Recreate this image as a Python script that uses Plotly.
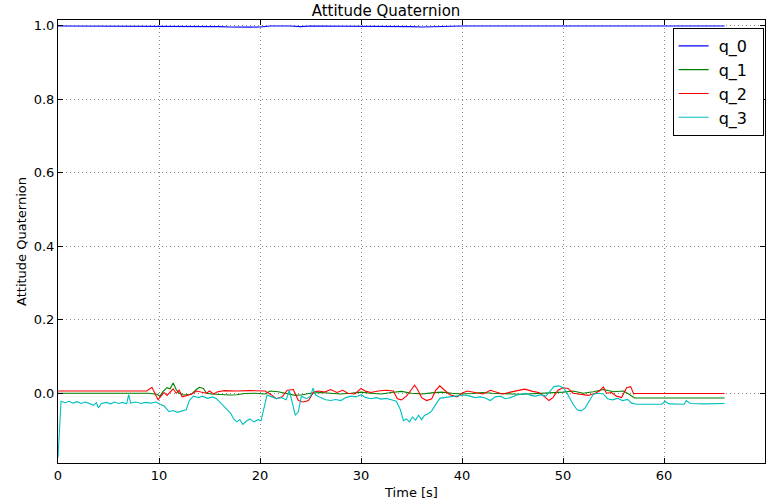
import plotly.graph_objects as go

# ---- data (time [s], value) ----
q0_points = [(0, 0.9995), (5, 0.9995), (10, 0.9995), (10.6, 0.9985), (11.5, 0.998), (12.9, 0.9985),
             (14, 0.9995), (15, 0.9985), (16, 0.998), (17, 0.997), (18, 0.996), (19, 0.9965),
             (20, 0.997), (21, 0.9995), (23, 0.9995), (24, 0.998), (25, 0.9995), (30, 0.9995),
             (34, 0.9995), (35, 0.998), (36, 0.997), (37, 0.998), (40, 0.9995), (45, 0.9995),
             (51.7, 0.9995), (52.5, 0.998), (53.5, 0.9995), (60, 0.9995), (66, 0.9995)]

q1_points = [(0, 0.0), (9.0, 0.0), (9.8, -0.003), (10.1, -0.008), (10.4, 0.005), (10.8, 0.015),
             (11.1, 0.012), (11.4, 0.028), (11.7, 0.01), (12.0, 0.0), (12.4, -0.005), (12.7, -0.004),
             (13.2, -0.003), (13.7, 0.01), (14.0, 0.016), (14.4, 0.013), (14.7, 0.0), (15.2, -0.002),
             (16.0, -0.004), (17.0, -0.005), (17.7, -0.004), (18.5, -0.001), (19.5, 0.0), (20.5, -0.002),
             (21.0, 0.006), (21.8, 0.004), (22.5, 0.0), (23.5, -0.006), (24.2, -0.004), (25.0, 0.0),
             (26, 0.002), (27, 0.0), (28, -0.002), (29, 0.0), (30, 0.003), (31, 0.0), (32, -0.002),
             (33, 0.002), (34, 0.005), (35, 0.0), (36, -0.002), (37, 0.001), (38, 0.003), (39, 0.0),
             (40, -0.002), (41, -0.001), (42, 0.002), (43, 0.0), (44, -0.002), (45, -0.002),
             (46, -0.003), (47, -0.002), (48, 0.0), (49, 0.002), (50, 0.003), (51, 0.006), (52, 0.0),
             (53, 0.004), (54, 0.01), (55, 0.004), (56, 0.006), (56.5, -0.002), (57.1, -0.013),
             (66, -0.013)]

q2_points = [(0, 0.006), (8.8, 0.006), (9.3, 0.016), (9.6, -0.002), (9.9, -0.018), (10.2, -0.008),
             (10.5, 0.002), (10.8, -0.006), (11.1, 0.004), (11.4, 0.012), (11.7, 0.0), (12.0, 0.008),
             (12.3, -0.01), (12.7, -0.006), (13.2, -0.003), (13.7, 0.006), (14.2, 0.004), (14.7, 0.0),
             (15.0, 0.006), (15.4, -0.002), (15.8, 0.004), (16.5, 0.007), (17.7, 0.006), (19, 0.007),
             (20.5, 0.006), (21.1, -0.004), (21.6, -0.015), (22.2, -0.01), (22.7, 0.008), (23.3, 0.01),
             (23.8, -0.02), (24.3, -0.024), (24.8, -0.02), (25.3, 0.003), (25.8, 0.006), (26.4, 0.003),
             (27, 0.01), (27.6, 0.002), (28.2, 0.008), (28.7, 0.0), (29.4, -0.002), (30.0, 0.013),
             (30.5, 0.005), (31, 0.002), (31.7, 0.006), (32.5, 0.008), (33.2, 0.006), (33.6, -0.015),
             (34.0, -0.018), (34.5, -0.008), (35.0, 0.01), (35.3, 0.022), (35.6, 0.01), (36.0, -0.012),
             (36.5, -0.02), (37.0, -0.015), (37.4, 0.008), (37.8, 0.02), (38.2, 0.01), (38.8, -0.004),
             (39.5, -0.01), (40.0, 0.0), (40.5, 0.006), (41.2, 0.002), (42.1, -0.002), (42.8, 0.008),
             (43.4, 0.004), (44.0, -0.002), (44.8, 0.003), (45.5, 0.008), (46.2, 0.011), (47.0, 0.005),
             (47.6, 0.002), (48.2, -0.01), (48.6, -0.02), (49.0, -0.012), (49.5, 0.008), (50.0, 0.015),
             (50.5, 0.013), (51.0, 0.0), (51.8, -0.004), (52.5, -0.006), (53.2, 0.0), (53.6, 0.006),
             (54.0, 0.017), (54.3, 0.0), (54.8, 0.002), (55.3, -0.008), (55.8, -0.012), (56.3, 0.015),
             (56.7, 0.018), (57.0, -0.002), (57.2, -0.001), (66, -0.001)]

q3_points = [(0, -0.175), (0.3, -0.022), (0.7, -0.026), (1.1, -0.022), (1.5, -0.027), (1.9, -0.023),
             (2.3, -0.028), (2.7, -0.024), (3.2, -0.029), (3.5, -0.033), (3.8, -0.026), (4.0, -0.04),
             (4.3, -0.028), (4.8, -0.025), (5.2, -0.029), (5.6, -0.024), (6.0, -0.028), (6.4, -0.025),
             (6.8, -0.029), (7.0, -0.004), (7.2, -0.027), (7.7, -0.024), (8.2, -0.028), (8.7, -0.025),
             (9.2, -0.027), (9.7, -0.024), (10.1, -0.03), (10.5, -0.035), (11.0, -0.05), (11.4, -0.047),
             (11.8, -0.052), (12.3, -0.048), (12.7, -0.045), (13.0, -0.02), (13.4, -0.008), (13.9, -0.012),
             (14.3, -0.008), (14.8, -0.014), (15.3, -0.01), (15.7, -0.015), (16.2, -0.03), (16.7, -0.045),
             (17.1, -0.055), (17.4, -0.07), (17.7, -0.078), (18.0, -0.072), (18.3, -0.085), (18.7, -0.075),
             (19.0, -0.07), (19.4, -0.078), (19.8, -0.072), (20.1, -0.075), (20.4, -0.04), (20.7, -0.005),
             (21.2, -0.01), (21.6, -0.015), (22.1, -0.012), (22.6, -0.018), (22.9, 0.008), (23.2, -0.03),
             (23.5, -0.06), (23.8, -0.05), (24.1, -0.008), (24.6, -0.015), (25.0, -0.008), (25.25, 0.014),
             (25.5, -0.005), (26.0, -0.012), (26.5, -0.018), (27.0, -0.02), (27.5, -0.017), (28.0, -0.02),
             (28.5, -0.012), (29.0, -0.008), (29.5, -0.01), (30.0, -0.004), (30.5, -0.012), (31.0, -0.015),
             (31.5, -0.012), (32.0, -0.016), (32.5, -0.014), (33.0, -0.018), (33.5, -0.022), (33.9, -0.045),
             (34.2, -0.075), (34.5, -0.07), (34.8, -0.078), (35.1, -0.065), (35.4, -0.073), (35.7, -0.06),
             (36.0, -0.072), (36.3, -0.06), (36.7, -0.055), (37.0, -0.048), (37.4, -0.03), (37.8, -0.014),
             (38.2, -0.012), (38.7, -0.01), (39.2, -0.01), (39.7, -0.006), (40.2, -0.005), (40.8, -0.008),
             (41.3, -0.012), (41.8, -0.01), (42.3, -0.013), (42.8, -0.02), (43.3, -0.01), (43.8, -0.008),
             (44.3, -0.015), (44.8, -0.012), (45.3, -0.006), (45.8, -0.003), (46.3, 0.0), (46.8, -0.006),
             (47.3, -0.008), (47.8, -0.004), (48.3, -0.008), (48.7, 0.005), (49.1, 0.018), (49.6, 0.02),
             (50.0, 0.015), (50.3, 0.005), (50.6, -0.01), (51.0, -0.03), (51.4, -0.045), (51.8, -0.048),
             (52.2, -0.04), (52.6, -0.02), (53.0, -0.003), (53.5, 0.0), (54.0, -0.002), (54.4, -0.015),
             (54.9, -0.018), (55.4, -0.014), (55.9, -0.02), (56.4, -0.017), (56.8, -0.027), (57.3, -0.03),
             (58.5, -0.031), (59.8, -0.03), (60.1, -0.022), (60.5, -0.029), (62.0, -0.03), (62.2, -0.02),
             (62.6, -0.028), (64, -0.029), (66, -0.028)]

series_names = ["q_0", "q_1", "q_2", "q_3"]
series_colors = ["#0000ff", "#008000", "#ff0000", "#00bfbf"]
series_points = [q0_points, q1_points, q2_points, q3_points]

x_ticks = [0, 10, 20, 30, 40, 50, 60, 70]
y_ticks = [0.0, 0.2, 0.4, 0.6, 0.8, 1.0]

NBSP = "\u00a0"

fig = go.Figure()
for name, color, pts in zip(series_names, series_colors, series_points):
    fig.add_trace(go.Scatter(
        x=[p[0] for p in pts], y=[p[1] for p in pts], mode="lines",
        name=NBSP + name + NBSP * 2,
        line=dict(color=color, width=1.1),
    ))

font_family = "DejaVu Sans"
axis_common = dict(
    showline=True, linecolor="black", linewidth=1, mirror="ticks",
    ticks="inside", ticklen=5, tickcolor="black", tickwidth=1,
    showgrid=True, gridcolor="rgba(0,0,0,0.45)", griddash="1px,3px", gridwidth=1,
    zeroline=False, tickfont=dict(family=font_family, size=13, color="black"),
)

fig.update_layout(
    width=772, height=504,
    margin=dict(l=58, r=6, t=20, b=39),
    paper_bgcolor="white", plot_bgcolor="white",
    title=dict(text="Attitude Quaternion", x=0.5, xanchor="center", y=0.978, yanchor="middle",
               font=dict(family=font_family, size=15, color="black")),
    xaxis=dict(range=[0, 70], tickvals=x_ticks, ticktext=[str(v) for v in x_ticks],
               title=dict(text="Time [s]", font=dict(family=font_family, size=13, color="black"), standoff=6),
               **axis_common),
    yaxis=dict(range=[-0.19, 1.016], tickvals=y_ticks, ticktext=[f"{v:.1f}" for v in y_ticks],
               title=dict(text="Attitude Quaternion", font=dict(family=font_family, size=13, color="black"), standoff=4),
               **axis_common),
    legend=dict(x=0.998, xanchor="right", y=0.982, yanchor="top",
                bordercolor="black", borderwidth=1, bgcolor="white",
                font=dict(family=font_family, size=16, color="black"),
                tracegroupgap=0, itemwidth=30),
    showlegend=True,
)

fig.write_html("out.html")
